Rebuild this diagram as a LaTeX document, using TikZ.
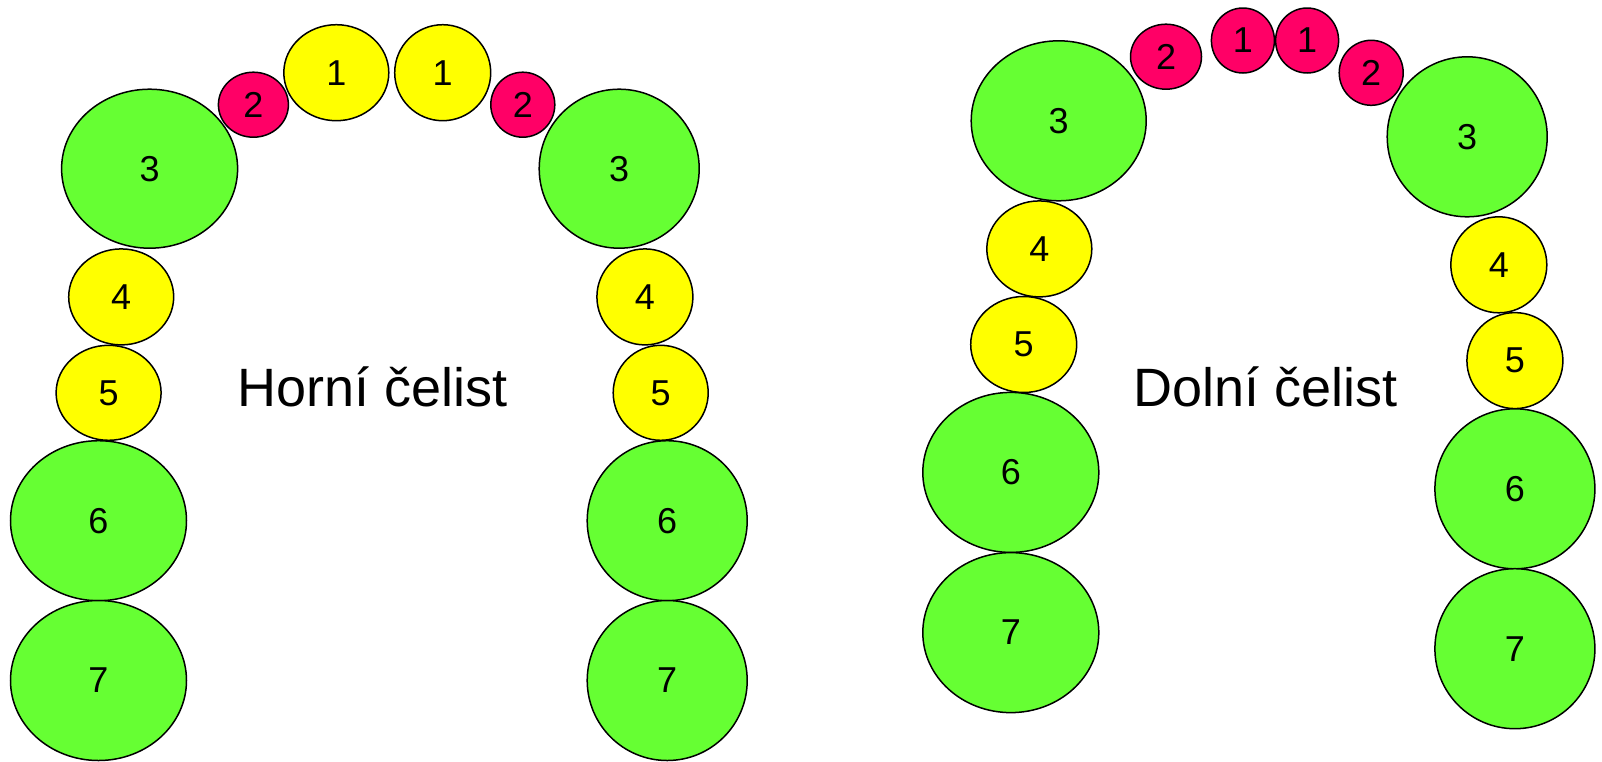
\documentclass[tikz,border=0pt]{standalone}
\usepackage{fontspec}
\setmainfont{Liberation Sans}
\usetikzlibrary{shapes.geometric}

\definecolor{toothgreen}{HTML}{66FF33}
\definecolor{toothyellow}{HTML}{FFFF00}
\definecolor{toothred}{HTML}{FF0066}

\tikzset{
	tooth/.style={ellipse, draw=black, line width=1.5pt, inner sep=0pt,
		font=\fontsize{36}{40}\selectfont},
	dims/.style 2 args={minimum width=#1pt, minimum height=#2pt},
	greentooth/.style={tooth, fill=toothgreen},
	yellowtooth/.style={tooth, fill=toothyellow},
	redtooth/.style={tooth, fill=toothred},
	jawlabel/.style={anchor=base, font=\fontsize{54}{60}\selectfont}
}

\begin{document}
\begin{tikzpicture}[x=1pt, y=-1pt]
	\useasboundingbox (0,0) rectangle (1602,761);

	%Upper jaw:
	\node (u3l) at (149.6,168.7) [greentooth, dims={176}{159}] {3};
	\node (u2l) at (253.4,104.7) [redtooth, dims={70}{65}] {2};
	\node (u1l) at (336.3,72.7) [yellowtooth, dims={105}{96}] {1};
	\node (u1r) at (442.7,72.7) [yellowtooth, dims={96}{96}] {1};
	\node (u2r) at (522.8,104.7) [redtooth, dims={64}{65}] {2};
	\node (u3r) at (619.2,168.7) [greentooth, dims={160}{159}] {3};

	\node (u4l) at (121.2,296.9) [yellowtooth, dims={105}{96}] {4};
	\node (u5l) at (108.6,392.8) [yellowtooth, dims={105}{95}] {5};
	\node (u6l) at (98.5,520.7) [greentooth, dims={176}{160}] {6};
	\node (u7l) at (98.5,680.5) [greentooth, dims={176}{160}] {7};

	\node (u4r) at (644.9,296.9) [yellowtooth, dims={96}{96}] {4};
	\node (u5r) at (660.7,392.8) [yellowtooth, dims={95}{95}] {5};
	\node (u6r) at (667.2,520.7) [greentooth, dims={160}{160}] {6};
	\node (u7r) at (667.2,680.5) [greentooth, dims={160}{160}] {7};

	\node (upper) at (373,406) [jawlabel] {Horní čelist};

	%Lower jaw:
	\node (l3l) at (1058.7,120.8) [greentooth, dims={175}{160}] {3};
	\node (l2l) at (1166,56.7) [redtooth, dims={71}{65}] {2};
	\node (l1l) at (1242.9,40.5) [redtooth, dims={63}{65}] {1};
	\node (l1r) at (1307.1,40.5) [redtooth, dims={63}{65}] {1};
	\node (l2r) at (1371.2,72.8) [redtooth, dims={64}{65}] {2};
	\node (l3r) at (1467.2,136.8) [greentooth, dims={160}{160}] {3};

	\node (l4l) at (1039.3,248.9) [yellowtooth, dims={105}{96}] {4};
	\node (l5l) at (1023.7,344.5) [yellowtooth, dims={106}{96}] {5};
	\node (l6l) at (1010.8,472.4) [greentooth, dims={176}{160}] {6};
	\node (l7l) at (1010.8,632.6) [greentooth, dims={176}{160}] {7};

	\node (l4r) at (1498.8,264.8) [yellowtooth, dims={96}{96}] {4};
	\node (l5r) at (1514.9,360.6) [yellowtooth, dims={96}{96}] {5};
	\node (l6r) at (1514.9,488.8) [greentooth, dims={160}{160}] {6};
	\node (l7r) at (1514.9,648.7) [greentooth, dims={160}{160}] {7};

	\node (lower) at (1265.5,406) [jawlabel] {Dolní čelist};
\end{tikzpicture}
\end{document}
